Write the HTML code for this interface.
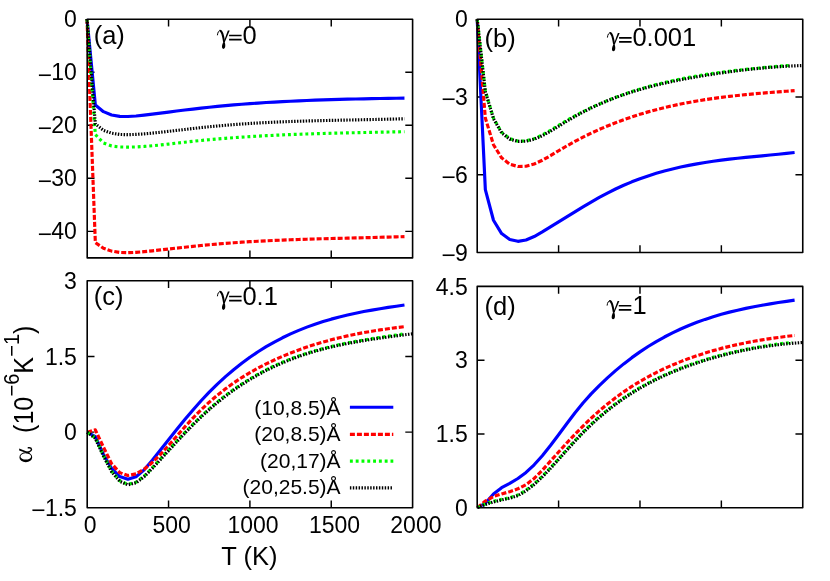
<!DOCTYPE html>
<html><head><meta charset="utf-8"><title>chart</title>
<style>
html,body{margin:0;padding:0;background:#fff;}
body{width:830px;height:581px;overflow:hidden;}
svg{display:block;will-change:transform;}
text{font-family:"Liberation Sans",sans-serif;fill:#000;}
</style></head><body>
<svg width="830" height="581" viewBox="0 0 830 581">
<rect x="0" y="0" width="830" height="581" fill="#fff"/>

<!-- panel a -->
<path d="M168.55 257.90v-7.30 M168.55 19.20v7.30 M249.90 257.90v-7.30 M249.90 19.20v7.30 M331.25 257.90v-7.30 M331.25 19.20v7.30 M87.20 72.24h7.30 M412.60 72.24h-7.30 M87.20 125.29h7.30 M412.60 125.29h-7.30 M87.20 178.33h7.30 M412.60 178.33h-7.30 M87.20 231.38h7.30 M412.60 231.38h-7.30" fill="none" stroke="#000" stroke-width="1.45"/>
<path d="M87.00 19.00 L95.34 105.00 L103.47 111.66 L111.61 114.96 L119.74 116.39 L127.88 116.55 L136.01 116.02 L144.15 115.15 L152.28 114.15 L160.42 113.11 L168.55 112.07 L176.69 111.05 L184.82 110.05 L192.96 109.07 L201.09 108.14 L209.23 107.26 L217.36 106.43 L225.50 105.66 L233.63 104.94 L241.77 104.28 L249.90 103.66 L258.04 103.08 L266.17 102.55 L274.31 102.07 L282.44 101.62 L290.58 101.21 L298.71 100.83 L306.85 100.49 L314.98 100.18 L323.12 99.89 L331.25 99.63 L339.39 99.40 L347.52 99.18 L355.66 98.99 L363.79 98.81 L371.93 98.65 L380.06 98.50 L388.20 98.36 L396.33 98.23 L404.47 98.10" fill="none" stroke="#0000ff" stroke-width="3.15" stroke-linejoin="round"/>
<path d="M87.00 19.00 L95.34 242.60 L103.47 248.24 L111.61 251.13 L119.74 252.45 L127.88 252.71 L136.01 252.33 L144.15 251.64 L152.28 250.81 L160.42 249.93 L168.55 249.02 L176.69 248.11 L184.82 247.22 L192.96 246.35 L201.09 245.51 L209.23 244.73 L217.36 244.01 L225.50 243.35 L233.63 242.74 L241.77 242.19 L249.90 241.69 L258.04 241.23 L266.17 240.81 L274.31 240.43 L282.44 240.09 L290.58 239.77 L298.71 239.48 L306.85 239.22 L314.98 238.98 L323.12 238.75 L331.25 238.54 L339.39 238.34 L347.52 238.14 L355.66 237.94 L363.79 237.74 L371.93 237.53 L380.06 237.30 L388.20 237.07 L396.33 236.84 L404.47 236.60" fill="none" stroke="#ff0000" stroke-width="3.15" stroke-dasharray="5 2" stroke-linejoin="round"/>
<path d="M87.00 19.00 L95.34 134.60 L103.47 142.90 L111.61 146.02 L119.74 146.97 L127.88 147.14 L136.01 146.92 L144.15 146.44 L152.28 145.77 L160.42 144.97 L168.55 144.08 L176.69 143.14 L184.82 142.20 L192.96 141.30 L201.09 140.47 L209.23 139.70 L217.36 138.98 L225.50 138.32 L233.63 137.70 L241.77 137.13 L249.90 136.61 L258.04 136.13 L266.17 135.68 L274.31 135.28 L282.44 134.91 L290.58 134.57 L298.71 134.26 L306.85 133.97 L314.98 133.71 L323.12 133.48 L331.25 133.26 L339.39 133.05 L347.52 132.87 L355.66 132.69 L363.79 132.52 L371.93 132.35 L380.06 132.19 L388.20 132.03 L396.33 131.87 L404.47 131.71" fill="none" stroke="#00ff00" stroke-width="3.15" stroke-dasharray="2.9 2.9" stroke-linejoin="round"/>
<path d="M87.00 19.00 L95.34 123.90 L103.47 130.33 L111.61 133.17 L119.74 134.44 L127.88 134.68 L136.01 134.41 L144.15 133.85 L152.28 133.11 L160.42 132.26 L168.55 131.35 L176.69 130.41 L184.82 129.46 L192.96 128.51 L201.09 127.60 L209.23 126.75 L217.36 125.96 L225.50 125.25 L233.63 124.60 L241.77 124.01 L249.90 123.47 L258.04 122.99 L266.17 122.56 L274.31 122.17 L282.44 121.82 L290.58 121.51 L298.71 121.24 L306.85 120.99 L314.98 120.76 L323.12 120.56 L331.25 120.38 L339.39 120.21 L347.52 120.05 L355.66 119.89 L363.79 119.72 L371.93 119.55 L380.06 119.37 L388.20 119.19 L396.33 118.99 L404.47 118.80" fill="none" stroke="#000000" stroke-width="3.15" stroke-dasharray="1.45 1.45" stroke-linejoin="round"/>
<rect x="87.20" y="19.20" width="325.40" height="238.70" fill="none" stroke="#000" stroke-width="1.6" stroke-linejoin="round"/>
<text x="76.90" y="27.30" text-anchor="end" font-size="23">0</text>
<text x="76.90" y="80.34" text-anchor="end" font-size="23">10</text>
<text x="52.12" y="82.64" text-anchor="end" font-size="23" textLength="14.37" lengthAdjust="spacingAndGlyphs">−</text>
<text x="76.90" y="133.39" text-anchor="end" font-size="23">20</text>
<text x="52.12" y="135.69" text-anchor="end" font-size="23" textLength="14.37" lengthAdjust="spacingAndGlyphs">−</text>
<text x="76.90" y="186.43" text-anchor="end" font-size="23">30</text>
<text x="52.12" y="188.73" text-anchor="end" font-size="23" textLength="14.37" lengthAdjust="spacingAndGlyphs">−</text>
<text x="76.90" y="239.48" text-anchor="end" font-size="23">40</text>
<text x="52.12" y="241.78" text-anchor="end" font-size="23" textLength="14.37" lengthAdjust="spacingAndGlyphs">−</text>
<!-- panel b -->
<path d="M558.59 252.50v-7.30 M558.59 19.20v7.30 M639.98 252.50v-7.30 M639.98 19.20v7.30 M721.36 252.50v-7.30 M721.36 19.20v7.30 M477.20 96.97h7.30 M802.75 96.97h-7.30 M477.20 174.73h7.30 M802.75 174.73h-7.30" fill="none" stroke="#000" stroke-width="1.45"/>
<path d="M477.20 19.20 L485.34 189.60 L493.48 220.26 L501.62 233.56 L509.75 239.58 L517.89 241.33 L526.03 239.98 L534.17 236.52 L542.31 231.89 L550.45 226.95 L558.59 221.92 L566.73 216.87 L574.87 211.85 L583.00 206.90 L591.14 202.10 L599.28 197.48 L607.42 193.10 L615.56 189.02 L623.70 185.27 L631.84 181.84 L639.98 178.72 L648.11 175.89 L656.25 173.32 L664.39 171.00 L672.53 168.92 L680.67 167.04 L688.81 165.36 L696.95 163.85 L705.09 162.50 L713.22 161.28 L721.36 160.18 L729.50 159.18 L737.64 158.27 L745.78 157.41 L753.92 156.60 L762.06 155.81 L770.19 155.03 L778.33 154.24 L786.47 153.41 L794.61 152.54" fill="none" stroke="#0000ff" stroke-width="3.15" stroke-linejoin="round"/>
<path d="M477.20 19.20 L485.34 118.00 L493.48 144.78 L501.62 157.85 L509.75 164.20 L517.89 166.51 L526.03 166.25 L534.17 164.00 L542.31 160.30 L550.45 155.69 L558.59 150.74 L566.73 145.93 L574.87 141.41 L583.00 137.16 L591.14 133.18 L599.28 129.45 L607.42 125.97 L615.56 122.72 L623.70 119.69 L631.84 116.89 L639.98 114.28 L648.11 111.88 L656.25 109.66 L664.39 107.61 L672.53 105.73 L680.67 104.01 L688.81 102.43 L696.95 100.98 L705.09 99.67 L713.22 98.47 L721.36 97.37 L729.50 96.37 L737.64 95.46 L745.78 94.62 L753.92 93.85 L762.06 93.14 L770.19 92.47 L778.33 91.84 L786.47 91.23 L794.61 90.64" fill="none" stroke="#ff0000" stroke-width="3.15" stroke-dasharray="5 2" stroke-linejoin="round"/>
<path d="M477.20 19.20 L485.34 91.00 L493.48 118.16 L501.62 132.23 L509.75 138.70 L517.89 141.12 L526.03 140.92 L534.17 138.66 L542.31 134.93 L550.45 130.28 L558.59 125.28 L566.73 120.44 L574.87 115.90 L583.00 111.66 L591.14 107.69 L599.28 103.99 L607.42 100.54 L615.56 97.34 L623.70 94.37 L631.84 91.61 L639.98 89.06 L648.11 86.70 L656.25 84.53 L664.39 82.52 L672.53 80.67 L680.67 78.96 L688.81 77.39 L696.95 75.94 L705.09 74.60 L713.22 73.38 L721.36 72.24 L729.50 71.20 L737.64 70.24 L745.78 69.34 L753.92 68.52 L762.06 67.74 L770.19 67.01 L778.33 66.31 L786.47 65.64 L791.60 65.28" fill="none" stroke="#00ff00" stroke-width="3.15" stroke-dasharray="2.9 2.9" stroke-linejoin="round"/>
<path d="M477.20 19.20 L485.34 91.60 L493.48 118.73 L501.62 132.88 L509.75 139.14 L517.89 141.39 L526.03 141.25 L534.17 139.20 L542.31 135.71 L550.45 131.24 L558.59 126.25 L566.73 121.20 L574.87 116.46 L583.00 112.07 L591.14 108.00 L599.28 104.25 L607.42 100.78 L615.56 97.59 L623.70 94.66 L631.84 91.97 L639.98 89.49 L648.11 87.22 L656.25 85.13 L664.39 83.20 L672.53 81.43 L680.67 79.78 L688.81 78.25 L696.95 76.81 L705.09 75.45 L713.22 74.16 L721.36 72.94 L729.50 71.80 L737.64 70.75 L745.78 69.77 L753.92 68.88 L762.06 68.08 L770.19 67.37 L778.33 66.76 L786.47 66.24 L794.61 65.84 L801.30 65.59" fill="none" stroke="#000000" stroke-width="3.15" stroke-dasharray="1.45 1.45" stroke-linejoin="round"/>
<rect x="477.20" y="19.20" width="325.55" height="233.30" fill="none" stroke="#000" stroke-width="1.6" stroke-linejoin="round"/>
<text x="467.80" y="27.30" text-anchor="end" font-size="23">0</text>
<text x="467.80" y="105.07" text-anchor="end" font-size="23">3</text>
<text x="455.81" y="107.37" text-anchor="end" font-size="23" textLength="14.37" lengthAdjust="spacingAndGlyphs">−</text>
<text x="467.80" y="182.83" text-anchor="end" font-size="23">6</text>
<text x="455.81" y="185.13" text-anchor="end" font-size="23" textLength="14.37" lengthAdjust="spacingAndGlyphs">−</text>
<text x="467.80" y="260.60" text-anchor="end" font-size="23">9</text>
<text x="455.81" y="262.90" text-anchor="end" font-size="23" textLength="14.37" lengthAdjust="spacingAndGlyphs">−</text>
<!-- panel c -->
<path d="M168.55 507.80v-7.30 M168.55 280.70v7.30 M249.90 507.80v-7.30 M249.90 280.70v7.30 M331.25 507.80v-7.30 M331.25 280.70v7.30 M87.20 356.40h7.30 M412.60 356.40h-7.30 M87.20 432.10h7.30 M412.60 432.10h-7.30" fill="none" stroke="#000" stroke-width="1.45"/>
<path d="M87.20 432.20 L95.34 436.67 L103.47 454.51 L111.61 468.44 L119.74 476.52 L127.88 479.27 L136.01 476.73 L144.15 469.83 L152.28 460.34 L160.42 450.05 L168.55 439.74 L176.69 429.54 L184.82 419.57 L192.96 409.94 L201.09 400.76 L209.23 392.15 L217.36 384.12 L225.50 376.63 L233.63 369.68 L241.77 363.24 L249.90 357.27 L258.04 351.77 L266.17 346.71 L274.31 342.05 L282.44 337.79 L290.58 333.90 L298.71 330.35 L306.85 327.12 L314.98 324.20 L323.12 321.54 L331.25 319.14 L339.39 316.96 L347.52 315.00 L355.66 313.21 L363.79 311.58 L371.93 310.09 L380.06 308.71 L388.20 307.43 L396.33 306.21 L404.47 305.02" fill="none" stroke="#0000ff" stroke-width="3.15" stroke-linejoin="round"/>
<path d="M87.20 432.20 L95.34 429.88 L103.47 447.18 L111.61 463.69 L119.74 472.64 L127.88 475.52 L136.01 473.91 L144.15 469.16 L152.28 462.47 L160.42 454.46 L168.55 445.58 L176.69 436.26 L184.82 426.93 L192.96 418.02 L201.09 409.79 L209.23 402.21 L217.36 395.24 L225.50 388.83 L233.63 382.95 L241.77 377.56 L249.90 372.60 L258.04 368.04 L266.17 363.85 L274.31 359.97 L282.44 356.36 L290.58 353.02 L298.71 349.93 L306.85 347.07 L314.98 344.43 L323.12 342.01 L331.25 339.78 L339.39 337.74 L347.52 335.87 L355.66 334.17 L363.79 332.61 L371.93 331.19 L380.06 329.89 L388.20 328.72 L396.33 327.65 L404.47 326.64" fill="none" stroke="#ff0000" stroke-width="3.15" stroke-dasharray="5 2" stroke-linejoin="round"/>
<path d="M87.20 432.20 L95.34 437.84 L103.47 455.51 L111.61 471.18 L119.74 480.74 L127.88 484.29 L136.01 482.23 L144.15 476.14 L152.28 467.85 L160.42 459.00 L168.55 450.12 L176.69 441.29 L184.82 432.65 L192.96 424.30 L201.09 416.34 L209.23 408.89 L217.36 401.95 L225.50 395.50 L233.63 389.52 L241.77 383.99 L249.90 378.88 L258.04 374.18 L266.17 369.86 L274.31 365.90 L282.44 362.28 L290.58 358.98 L298.71 355.97 L306.85 353.24 L314.98 350.76 L323.12 348.51 L331.25 346.47 L339.39 344.61 L347.52 342.92 L355.66 341.37 L363.79 339.95 L371.93 338.62 L380.06 337.37 L388.20 336.18 L396.33 335.02 L404.47 333.91" fill="none" stroke="#00ff00" stroke-width="3.15" stroke-dasharray="2.9 2.9" stroke-linejoin="round"/>
<path d="M87.20 432.20 L95.34 438.43 L103.47 456.14 L111.61 471.71 L119.74 481.28 L127.88 484.86 L136.01 482.82 L144.15 476.72 L152.28 468.43 L160.42 459.58 L168.55 450.70 L176.69 441.89 L184.82 433.26 L192.96 424.92 L201.09 416.97 L209.23 409.52 L217.36 402.58 L225.50 396.13 L233.63 390.14 L241.77 384.60 L249.90 379.49 L258.04 374.77 L266.17 370.44 L274.31 366.47 L282.44 362.84 L290.58 359.53 L298.71 356.51 L306.85 353.77 L314.98 351.29 L323.12 349.04 L331.25 347.01 L339.39 345.16 L347.52 343.49 L355.66 341.97 L363.79 340.57 L371.93 339.28 L380.06 338.08 L388.20 336.95 L396.33 335.86 L404.47 334.79 L412.10 333.87" fill="none" stroke="#000000" stroke-width="3.15" stroke-dasharray="1.45 1.45" stroke-linejoin="round"/>
<rect x="87.20" y="280.70" width="325.40" height="227.10" fill="none" stroke="#000" stroke-width="1.6" stroke-linejoin="round"/>
<text x="76.90" y="288.80" text-anchor="end" font-size="23">3</text>
<text x="76.90" y="364.50" text-anchor="end" font-size="23">1.5</text>
<text x="76.90" y="440.20" text-anchor="end" font-size="23">0</text>
<text x="76.90" y="515.90" text-anchor="end" font-size="23">1.5</text>
<text x="45.73" y="518.20" text-anchor="end" font-size="23" textLength="14.37" lengthAdjust="spacingAndGlyphs">−</text>
<!-- panel d -->
<path d="M558.59 507.80v-7.30 M558.59 286.40v7.30 M639.98 507.80v-7.30 M639.98 286.40v7.30 M721.36 507.80v-7.30 M721.36 286.40v7.30 M477.20 360.20h7.30 M802.75 360.20h-7.30 M477.20 434.00h7.30 M802.75 434.00h-7.30" fill="none" stroke="#000" stroke-width="1.45"/>
<path d="M477.40 507.60 L485.34 503.33 L493.48 494.08 L501.62 487.72 L509.75 483.37 L517.89 478.48 L526.03 472.40 L534.17 464.79 L542.31 455.69 L550.45 445.53 L558.59 434.75 L566.73 423.78 L574.87 413.07 L583.00 403.05 L591.14 393.91 L599.28 385.55 L607.42 377.82 L615.56 370.60 L623.70 363.89 L631.84 357.64 L639.98 351.86 L648.11 346.50 L656.25 341.56 L664.39 337.01 L672.53 332.83 L680.67 328.99 L688.81 325.49 L696.95 322.29 L705.09 319.38 L713.22 316.73 L721.36 314.32 L729.50 312.14 L737.64 310.16 L745.78 308.36 L753.92 306.72 L762.06 305.22 L770.19 303.84 L778.33 302.55 L786.47 301.35 L794.61 300.18" fill="none" stroke="#0000ff" stroke-width="3.15" stroke-linejoin="round"/>
<path d="M477.40 507.60 L485.34 501.06 L493.48 496.56 L501.62 493.90 L509.75 491.68 L517.89 488.85 L526.03 484.65 L534.17 478.39 L542.31 470.23 L550.45 461.15 L558.59 452.01 L566.73 443.05 L574.87 434.37 L583.00 426.09 L591.14 418.26 L599.28 410.92 L607.42 404.08 L615.56 397.73 L623.70 391.86 L631.84 386.43 L639.98 381.42 L648.11 376.79 L656.25 372.53 L664.39 368.60 L672.53 364.97 L680.67 361.62 L688.81 358.52 L696.95 355.66 L705.09 353.03 L713.22 350.61 L721.36 348.39 L729.50 346.36 L737.64 344.50 L745.78 342.81 L753.92 341.27 L762.06 339.87 L770.19 338.60 L778.33 337.45 L786.47 336.41 L794.61 335.45" fill="none" stroke="#ff0000" stroke-width="3.15" stroke-dasharray="5 2" stroke-linejoin="round"/>
<path d="M477.40 507.60 L485.34 503.93 L493.48 501.32 L501.62 499.39 L509.75 497.68 L517.89 494.97 L526.03 490.22 L534.17 483.83 L542.31 476.26 L550.45 467.85 L558.59 458.91 L566.73 449.77 L574.87 440.74 L583.00 432.16 L591.14 424.18 L599.28 416.80 L607.42 409.98 L615.56 403.68 L623.70 397.88 L631.84 392.54 L639.98 387.62 L648.11 383.10 L656.25 378.93 L664.39 375.09 L672.53 371.54 L680.67 368.25 L688.81 365.18 L696.95 362.34 L705.09 359.70 L713.22 357.27 L721.36 355.03 L729.50 352.97 L737.64 351.08 L745.78 349.37 L753.92 347.81 L762.06 346.40 L770.19 345.13 L778.33 344.01 L786.47 343.01 L792.00 342.44" fill="none" stroke="#00ff00" stroke-width="3.15" stroke-dasharray="2.9 2.9" stroke-linejoin="round"/>
<path d="M477.40 507.60 L485.34 504.52 L493.48 501.98 L501.62 499.96 L509.75 498.25 L517.89 495.62 L526.03 490.87 L534.17 484.46 L542.31 476.87 L550.45 468.43 L558.59 459.48 L566.73 450.32 L574.87 441.30 L583.00 432.72 L591.14 424.77 L599.28 417.42 L607.42 410.62 L615.56 404.33 L623.70 398.53 L631.84 393.17 L639.98 388.23 L648.11 383.68 L656.25 379.50 L664.39 375.64 L672.53 372.09 L680.67 368.81 L688.81 365.78 L696.95 362.96 L705.09 360.33 L713.22 357.89 L721.36 355.64 L729.50 353.56 L737.64 351.66 L745.78 349.94 L753.92 348.39 L762.06 347.00 L770.19 345.78 L778.33 344.72 L786.47 343.81 L794.61 343.08 L802.75 342.50" fill="none" stroke="#000000" stroke-width="3.15" stroke-dasharray="1.45 1.45" stroke-linejoin="round"/>
<rect x="477.20" y="286.40" width="325.55" height="221.40" fill="none" stroke="#000" stroke-width="1.6" stroke-linejoin="round"/>
<text x="467.80" y="294.50" text-anchor="end" font-size="23">4.5</text>
<text x="467.80" y="368.30" text-anchor="end" font-size="23">3</text>
<text x="467.80" y="442.10" text-anchor="end" font-size="23">1.5</text>
<text x="467.80" y="515.90" text-anchor="end" font-size="23">0</text>
<text x="90.20" y="532.8" text-anchor="middle" font-size="23">0</text>
<text x="171.62" y="532.8" text-anchor="middle" font-size="23">500</text>
<text x="253.05" y="532.8" text-anchor="middle" font-size="23">1000</text>
<text x="334.47" y="532.8" text-anchor="middle" font-size="23">1500</text>
<text x="415.90" y="532.8" text-anchor="middle" font-size="23">2000</text>
<text x="249.4" y="564.6" text-anchor="middle" font-size="25.5">T (K)</text>
<path fill-rule="evenodd" fill="#000" d="M19.4 457.25 A6.4 4.95 0 1 0 32.2 457.25 A6.4 4.95 0 1 0 19.4 457.25 Z M20.5 456.45 A5.3 3.15 0 1 1 31.1 456.45 A5.3 3.15 0 1 1 20.5 456.45 Z"/><path fill="#000" d="M19.2 448.5 L19.2 450.5 L29.5 453.9 L30.0 452.8 Z"/><path fill="none" stroke="#000" stroke-width="1.4" stroke-linecap="round" d="M26.6 452.5 C29.4 451.7 31.7 450.7 31.5 449.3 C31.3 447.9 29.7 447.6 28.3 447.8"/>
<g transform="translate(32.7 462.6) rotate(-90)"><g transform="translate(29.6 0) scale(0.968 1.05)"><text x="0" y="0" font-size="26">(10<tspan dy="-13.2" font-size="20.8">−6</tspan><tspan dy="13.2">K</tspan><tspan dy="-13.2" font-size="20.8">−1</tspan><tspan dy="13.2">)</tspan></text></g></g>
<text x="93.70" y="43.90" font-size="25.5">(a)</text>
<text x="484.50" y="46.60" font-size="25.5">(b)</text>
<text x="93.70" y="304.90" font-size="25.5">(c)</text>
<text x="484.50" y="314.90" font-size="25.5">(d)</text>
<g transform="translate(217.20 43.60)"><path d="M0.25 -8.7 C0.5 -11.4 1.5 -13.1 3.1 -13.15" fill="none" stroke="#000" stroke-width="1.0" stroke-linecap="round"/><path d="M2.5 -12.9 C4.7 -13.2 5.7 -9.0 6.9 -1.8" fill="none" stroke="#000" stroke-width="2.0"/><path d="M10.7 -13.0 L12.5 -13.0 L7.5 -1.4 L6.6 -2.0 Z" fill="#000"/><path d="M6.9 -3.0 C8.7 0.8 8.4 5.3 6.2 5.3 C4.0 5.3 4.5 0.8 6.9 -3.0 Z" fill="#000"/><path d="M11.9 -8.1 H24.4 M11.9 -4.0 H24.4" fill="none" stroke="#000" stroke-width="1.65"/><text x="25.20" y="0" font-size="25.5">0</text></g>
<g transform="translate(607.20 45.90)"><path d="M0.25 -8.7 C0.5 -11.4 1.5 -13.1 3.1 -13.15" fill="none" stroke="#000" stroke-width="1.0" stroke-linecap="round"/><path d="M2.5 -12.9 C4.7 -13.2 5.7 -9.0 6.9 -1.8" fill="none" stroke="#000" stroke-width="2.0"/><path d="M10.7 -13.0 L12.5 -13.0 L7.5 -1.4 L6.6 -2.0 Z" fill="#000"/><path d="M6.9 -3.0 C8.7 0.8 8.4 5.3 6.2 5.3 C4.0 5.3 4.5 0.8 6.9 -3.0 Z" fill="#000"/><path d="M11.9 -8.1 H24.4 M11.9 -4.0 H24.4" fill="none" stroke="#000" stroke-width="1.65"/><text x="25.20" y="0" font-size="25.5">0.001</text></g>
<g transform="translate(217.20 304.60)"><path d="M0.25 -8.7 C0.5 -11.4 1.5 -13.1 3.1 -13.15" fill="none" stroke="#000" stroke-width="1.0" stroke-linecap="round"/><path d="M2.5 -12.9 C4.7 -13.2 5.7 -9.0 6.9 -1.8" fill="none" stroke="#000" stroke-width="2.0"/><path d="M10.7 -13.0 L12.5 -13.0 L7.5 -1.4 L6.6 -2.0 Z" fill="#000"/><path d="M6.9 -3.0 C8.7 0.8 8.4 5.3 6.2 5.3 C4.0 5.3 4.5 0.8 6.9 -3.0 Z" fill="#000"/><path d="M11.9 -8.1 H24.4 M11.9 -4.0 H24.4" fill="none" stroke="#000" stroke-width="1.65"/><text x="25.20" y="0" font-size="25.5">0.1</text></g>
<g transform="translate(606.90 313.90)"><path d="M0.25 -8.7 C0.5 -11.4 1.5 -13.1 3.1 -13.15" fill="none" stroke="#000" stroke-width="1.0" stroke-linecap="round"/><path d="M2.5 -12.9 C4.7 -13.2 5.7 -9.0 6.9 -1.8" fill="none" stroke="#000" stroke-width="2.0"/><path d="M10.7 -13.0 L12.5 -13.0 L7.5 -1.4 L6.6 -2.0 Z" fill="#000"/><path d="M6.9 -3.0 C8.7 0.8 8.4 5.3 6.2 5.3 C4.0 5.3 4.5 0.8 6.9 -3.0 Z" fill="#000"/><path d="M11.9 -8.1 H24.4 M11.9 -4.0 H24.4" fill="none" stroke="#000" stroke-width="1.65"/><text x="25.70" y="0" font-size="25.5">1</text></g>
<text x="340.6" y="414.50" text-anchor="end" font-size="21">(10,8.5)Å</text>
<path d="M349.9 407.20H393.3" fill="none" stroke="#0000ff" stroke-width="3.15"/>
<text x="340.6" y="441.00" text-anchor="end" font-size="21">(20,8.5)Å</text>
<path d="M349.9 434.30H393.3" fill="none" stroke="#ff0000" stroke-width="3.15" stroke-dasharray="5 2"/>
<text x="340.6" y="467.60" text-anchor="end" font-size="21">(20,17)Å</text>
<path d="M349.9 461.10H393.3" fill="none" stroke="#00ff00" stroke-width="3.15" stroke-dasharray="2.9 2.9"/>
<text x="340.6" y="494.20" text-anchor="end" font-size="21">(20,25.5)Å</text>
<path d="M349.9 487.80H393.3" fill="none" stroke="#000000" stroke-width="3.15" stroke-dasharray="1.45 1.45"/>
</svg>
</body></html>
